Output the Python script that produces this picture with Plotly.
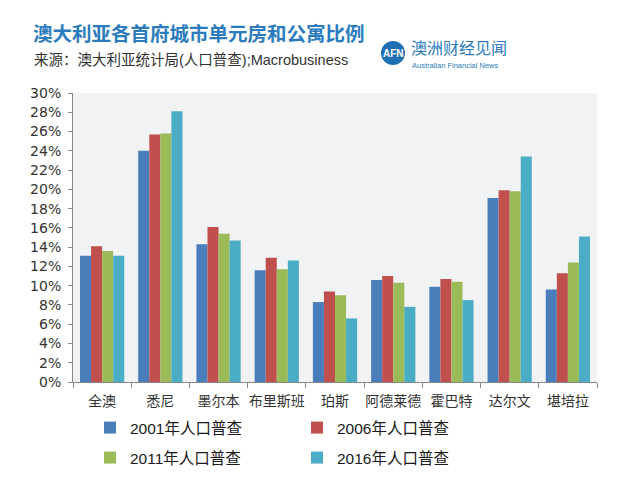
import plotly.graph_objects as go

cities = ["全澳", "悉尼", "墨尔本", "布里斯班", "珀斯", "阿德莱德", "霍巴特", "达尔文", "堪培拉"]
series_names = ["2001年人口普查", "2006年人口普查", "2011年人口普查", "2016年人口普查"]
v2001 = [13.1, 24.0, 14.3, 11.6, 8.3, 10.6, 9.9, 19.1, 9.6]
v2006 = [14.1, 25.7, 16.1, 12.9, 9.4, 11.0, 10.7, 19.9, 11.3]
v2011 = [13.6, 25.8, 15.4, 11.7, 9.0, 10.3, 10.4, 19.8, 12.4]
v2016 = [13.1, 28.1, 14.7, 12.6, 6.6, 7.8, 8.5, 23.4, 15.1]
colors = ["#4a7ebb", "#c0504d", "#9bbb59", "#4bacc6"]
tickvals = list(range(0, 31, 2))
ticktext = [f"{v}%" for v in tickvals]

CJK = "Noto Sans CJK SC, sans-serif"
OFF = 8  # page body margin
W, H = 640 - OFF, 487 - OFF
# plot area in reference pixel coords: x 73..597, y 93..382
X0, X1, Y0, Y1 = 73, 597, 93, 382
ML, MT = X0 - OFF, Y0 - OFF
MR, MB = 640 - X1, 487 - Y1
PW = X1 - X0
PH = Y1 - Y0


def px(x):
    return (x - X0) / PW


def py(y):
    return (Y1 - y) / PH


fig = go.Figure()
for i, (name, vals) in enumerate(zip(series_names, [v2001, v2006, v2011, v2016])):
    fig.add_trace(go.Bar(
        x=cities, y=vals, name=name, marker_color=colors[i], marker_line_width=0,
        legend="legend" if i < 2 else "legend2",
    ))

legend_common = dict(
    orientation="h", xref="paper", yref="paper", xanchor="left", yanchor="middle",
    font=dict(family="Liberation Sans, " + CJK, size=15.5, color="#1a1a1a"),
    entrywidth=162, entrywidthmode="pixels", bgcolor="rgba(0,0,0,0)",
    traceorder="normal", itemwidth=30,
)


def ann(text, x, y, size, color, family, xanchor="left"):
    return dict(text=text, x=px(x), y=py(y), xref="paper", yref="paper",
                showarrow=False, xanchor=xanchor, yanchor="middle",
                font=dict(family=family, size=size, color=color))


fig.update_layout(
    width=W, height=H,
    margin=dict(l=ML, r=MR, t=MT, b=MB, autoexpand=False),
    paper_bgcolor="white", plot_bgcolor="#f1f2f4",
    barmode="group", bargap=0.24, bargroupgap=0,
    showlegend=True,
    legend=dict(**legend_common, x=px(90), y=py(428)),
    legend2=dict(**legend_common, x=px(90), y=py(458)),
    xaxis=dict(
        tickfont=dict(family=CJK, size=14, color="#333333"), tickangle=0,
        ticks="outside", tickson="boundaries", ticklen=5, tickcolor="#888888",
        showline=True, linecolor="#888888", linewidth=1, showgrid=False,
        automargin=False, ticklabelstandoff=6,
    ),
    yaxis=dict(
        range=[0, 30], tickvals=tickvals, ticktext=ticktext,
        tickfont=dict(family="DejaVu Sans", size=14, color="#333333"),
        ticks="outside", ticklen=4, tickcolor="#888888",
        showline=True, linecolor="#888888", linewidth=1, showgrid=False,
        zeroline=False, automargin=False, ticklabelstandoff=4,
    ),
    annotations=[
        ann("<b>澳大利亚各首府城市单元房和公寓比例</b>", 31, 32, 19.5, "#2b7bbd", CJK),
        ann("来源：澳大利亚统计局(人口普查);Macrobusiness", 32, 60, 14.5, "#333333", "Liberation Sans, " + CJK),
        ann("<b>AFN</b>", 393, 53, 10, "white", "Liberation Sans", xanchor="center"),
        ann("澳洲财经见闻", 409, 47, 16, "#2b7bbd", CJK),
        ann("Australian Financial News", 410, 65, 7.5, "#2b7bbd", "Liberation Sans"),
    ],
)

fig.add_shape(type="circle", xref="paper", yref="paper",
              x0=px(381), x1=px(405), y0=py(65), y1=py(41),
              fillcolor="#1f6fb5", line_width=0, layer="below")

fig.write_html("out.html")
